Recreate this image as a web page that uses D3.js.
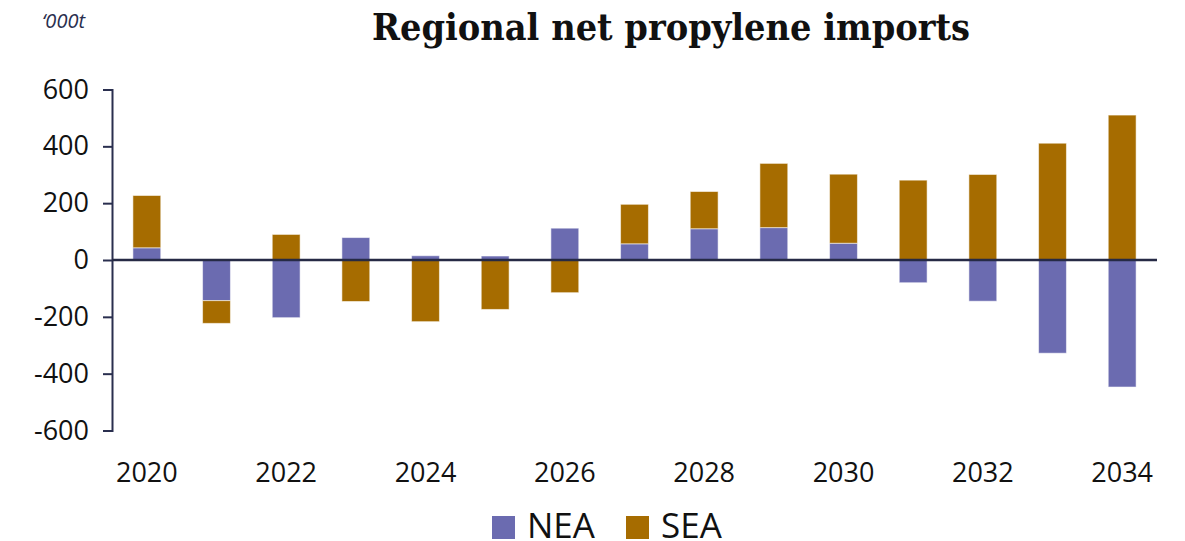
<!DOCTYPE html>
<html>
<head>
<meta charset="utf-8">
<script src="https://cdn.jsdelivr.net/npm/d3@7"></script>
<style>
  body { margin: 0; background: #ffffff; }
  svg { display: block; }
  .tick text { font-family: "Open Sans", "Noto Sans", sans-serif; fill: #111; }
</style>
</head>
<body>
<div id="chart"></div>
<script>
// years on the x axis
var years = [2020, 2021, 2022, 2023, 2024, 2025, 2026, 2027, 2028, 2029, 2030, 2031, 2032, 2033, 2034];
// '000t
var nea = [43, -143, -203, 79, 15, 14, 112, 57, 110, 114, 59, -80, -145, -328, -447];
var sea = [184, -80, 90, -146, -217, -174, -115, 139, 131, 226, 243, 281, 301, 411, 510];
var seriesNames = ["NEA", "SEA"];
var seriesColors = ["#6b6bb0", "#a66c00"];
var yTicks = [-600, -400, -200, 0, 200, 400, 600];
var xLabelYears = [2020, 2022, 2024, 2026, 2028, 2030, 2032, 2034];

var width = 1185, height = 541;
var margin = {top: 89.5, right: 28, bottom: 111, left: 112};

var svg = d3.select("#chart").append("svg")
    .attr("width", width)
    .attr("height", height);

// title and unit
svg.append("text")
    .attr("x", 372)
    .attr("y", 40)
    .attr("textLength", 598)
    .attr("lengthAdjust", "spacingAndGlyphs")
    .style("font-family", "'DejaVu Serif Condensed', 'DejaVu Serif', serif")
    .style("font-weight", "bold")
    .style("font-size", "37px")
    .style("fill", "#111")
    .text("Regional net propylene imports");

svg.append("text")
    .attr("x", 42)
    .attr("y", 28)
    .style("font-family", "'Open Sans', 'Noto Sans', sans-serif")
    .style("font-style", "italic")
    .style("font-size", "20px")
    .style("fill", "#2a2f4f")
    .text("\u2018000t");

var x = d3.scaleBand()
    .domain(years)
    .range([margin.left, width - margin.right])
    .paddingInner(0.6)
    .paddingOuter(0.3);

var y = d3.scaleLinear()
    .domain([-600, 600])
    .range([height - margin.bottom + 0.5, margin.top]);

// build stacked rows with diverging offset
var rows = years.map(function (yr, i) {
    return {year: yr, NEA: nea[i], SEA: sea[i]};
});
var stack = d3.stack()
    .keys(seriesNames)
    .offset(d3.stackOffsetDiverging);
var layers = stack(rows);

var g = svg.append("g");
g.selectAll("g.layer")
    .data(layers)
    .enter()
    .append("g")
    .attr("class", "layer")
    .attr("fill", function (d, i) { return seriesColors[i]; })
    .selectAll("rect")
    .data(function (d) { return d; })
    .enter()
    .append("rect")
    .attr("x", function (d) { return x(d.data.year); })
    .attr("width", x.bandwidth())
    .attr("y", function (d) { return y(Math.max(d[0], d[1])); })
    .attr("height", function (d) { return Math.abs(y(d[0]) - y(d[1])); })
    .attr("stroke", "rgba(255,255,255,0.55)")
    .attr("stroke-width", 1);

// y axis, plain hyphen for negatives like the original
var yAxis = d3.axisLeft(y)
    .tickValues(yTicks)
    .tickFormat(function (d) { return String(d); })
    .tickSize(9)
    .tickPadding(14);

var yg = svg.append("g")
    .attr("transform", "translate(" + margin.left + ",0)")
    .call(yAxis);
yg.select(".domain").attr("stroke", "#2a2f4f").attr("stroke-width", 2);
yg.selectAll(".tick line").attr("stroke", "#2a2f4f").attr("stroke-width", 2);
yg.selectAll(".tick text").style("font-size", "27px");

// zero line
svg.append("line")
    .attr("x1", margin.left)
    .attr("x2", width - margin.right)
    .attr("y1", y(0))
    .attr("y2", y(0))
    .attr("stroke", "#262a45")
    .attr("stroke-width", 2.5);

// x axis labels
var xAxis = d3.axisBottom(x)
    .tickValues(xLabelYears)
    .tickSize(0)
    .tickPadding(0);
var xg = svg.append("g")
    .attr("transform", "translate(0," + 463 + ")")
    .call(xAxis);
xg.select(".domain").remove();
xg.selectAll(".tick text").style("font-size", "27px");

// legend
var legend = svg.append("g").attr("transform", "translate(492,516)");
var legendX = [0, 134];
seriesNames.forEach(function (name, i) {
    var lg = legend.append("g").attr("transform", "translate(" + legendX[i] + ",0)");
    lg.append("rect")
        .attr("width", 23)
        .attr("height", 23)
        .attr("fill", seriesColors[i]);
    lg.append("text")
        .attr("x", 35)
        .attr("y", 22)
        .style("font-family", "'Open Sans', 'Noto Sans', sans-serif")
        .style("font-size", "35px")
        .style("fill", "#111")
        .text(name);
});
</script>
</body>
</html>
